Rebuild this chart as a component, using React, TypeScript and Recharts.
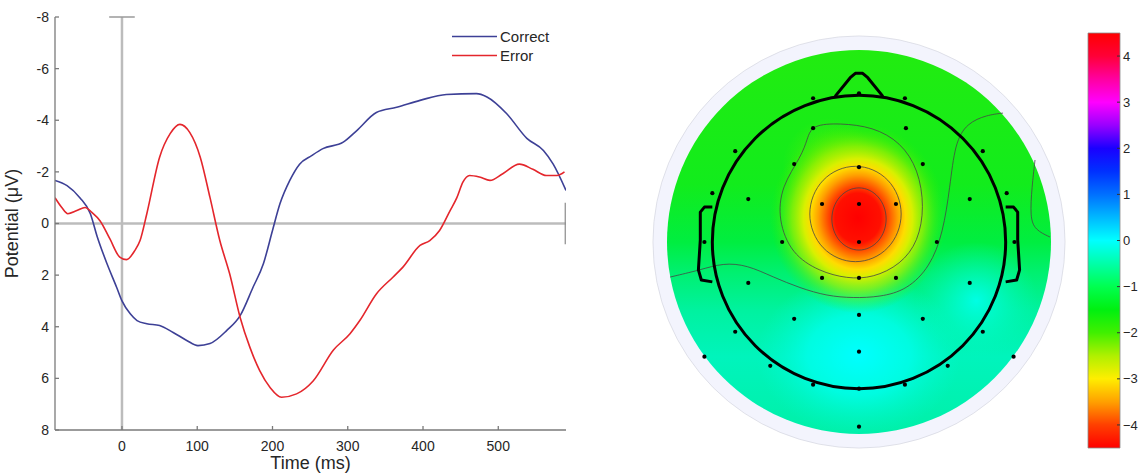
import React from "react";
import {
  LineChart,
  ComposedChart,
  Line,
  Scatter,
  XAxis,
  YAxis,
  Legend,
  ReferenceLine,
  ReferenceArea,
  Label,
} from "recharts";

const FONT = '"Liberation Sans", Arial, Helvetica, sans-serif';
const TEXT = "#262626";
const AXIS = "#7a7a7a";

// ERP waveforms: time (ms) and potential (µV), negative plotted up
const correctTimes = [
  -89, -73, -56, -42, -33, -20, -7, 0, 11, 20, 33, 50, 68, 86, 101, 117, 139, 157,
  174, 188, 200, 210, 223, 236, 252, 267, 294, 312, 338, 365, 396, 431, 471, 485,
  511, 538, 560, 573, 590,
];
const correctValues = [
  -1.67, -1.47, -1.0, -0.38, 0.5, 1.55, 2.48, 3.0, 3.5, 3.76, 3.88, 3.95, 4.22, 4.53,
  4.73, 4.65, 4.15, 3.57, 2.48, 1.55, 0.27, -0.77, -1.67, -2.3, -2.63, -2.9, -3.15,
  -3.6, -4.3, -4.5, -4.77, -5.0, -5.03, -4.9, -4.26, -3.3, -2.83, -2.3, -1.28,
];
const errorTimes = [
  -89, -80, -72, -60, -49, -40, -29, -16, -3, 6, 17, 24, 33, 50, 64, 77, 90, 104, 117,
  130, 143, 157, 170, 183, 197, 212, 232, 254, 281, 303, 316, 338, 360, 373, 396, 409,
  422, 436, 445, 453, 462, 475, 489, 506, 528, 546, 564, 578, 588,
];
const errorValues = [
  -1.0, -0.62, -0.38, -0.5, -0.62, -0.43, -0.1, 0.6, 1.3, 1.4, 1.05, 0.66, -0.38, -2.57,
  -3.48, -3.84, -3.53, -2.57, -1.0, 0.66, 1.94, 3.64, 4.8, 5.7, 6.36, 6.73, 6.6, 6.1,
  4.9, 4.27, 3.76, 2.73, 2.08, 1.7, 0.85, 0.66, 0.27, -0.5, -1.0, -1.6, -1.86, -1.8,
  -1.67, -1.93, -2.3, -2.1, -1.86, -1.86, -2.0,
];
const seriesNames = ["Correct", "Error"];
const seriesColors = ["#3d4096", "#e4262c"];
const timeTicks = [0, 100, 200, 300, 400, 500];
const potentialTicks = [-8, -6, -4, -2, 0, 2, 4, 6, 8];

// Scalp map, coordinates in head radii (head circle = 1)
const electrodeX = [
  0, -0.313, 0.313, -0.313, 0.32, -0.844, 0.844, -0.442, 0, 0.435, -1.0, 1.007, -0.755,
  -0.252, 0, 0.252, 0.755, -1.054, -0.524, 0, 0.531, 1.06, -0.755, -0.252, 0, 0.252,
  0.755, -0.844, -0.442, 0, 0.435, 0.844, -1.054, 0, 1.054, -0.605, 0.605, -0.313, 0,
  0.313, 0,
];
const electrodeY = [
  1.014, 0.98, 0.98, 0.776, 0.776, 0.619, 0.619, 0.531, 0.51, 0.531, 0.333, 0.333, 0.293,
  0.259, 0.259, 0.259, 0.293, 0, 0, 0, 0, 0, -0.279, -0.245, -0.245, -0.245, -0.279,
  -0.612, -0.524, -0.497, -0.524, -0.612, -0.782, -0.748, -0.782, -0.844, -0.844, -0.973,
  -1.0, -0.973, -1.259,
];
const contourInner = [
  [0, 0.392], [0.145, 0.323], [0.205, 0.157], [0.145, -0.009],
  [0, -0.078], [-0.145, -0.009], [-0.205, 0.157], [-0.145, 0.323],
];
const contourMiddle = [
  [-0.024, 0.551], [0.22, 0.446], [0.321, 0.191], [0.22, -0.064],
  [-0.024, -0.169], [-0.268, -0.064], [-0.369, 0.191], [-0.268, 0.446],
];
const contourOuter = [
  [-0.32, 0.8], [-0.13, 0.81], [0.095, 0.785], [0.285, 0.68], [0.405, 0.495],
  [0.446, 0.239], [0.405, 0.005], [0.285, -0.153], [0.095, -0.245], [-0.082, -0.25],
  [-0.272, -0.2], [-0.46, -0.082], [-0.552, 0.15], [-0.53, 0.38], [-0.392, 0.585],
  [-0.352, 0.705],
];
const contourLower = [
  [-1.288, -0.239], [-1.084, -0.191], [-0.927, -0.143], [-0.763, -0.157],
  [-0.586, -0.239], [-0.402, -0.314], [-0.218, -0.368], [-0.041, -0.382],
  [0.143, -0.375], [0.327, -0.327], [0.484, -0.17], [0.573, 0.061], [0.62, 0.375],
  [0.654, 0.675], [0.736, 0.811], [0.873, 0.866], [0.982, 0.879],
];
const contourRight = [
  [1.2, 0.559], [1.179, 0.375], [1.166, 0.17], [1.2, 0.082], [1.302, 0.034],
];
const noseOutline = [
  [-0.163, 0.993], [-0.06, 1.12], [-0.025, 1.15], [0.025, 1.15], [0.06, 1.12], [0.163, 0.993],
];
const leftEar = [
  [-1.0, 0.238], [-1.054, 0.238], [-1.082, 0.204], [-1.082, 0.014],
  [-1.095, -0.19], [-1.075, -0.259], [-1.0, -0.272],
];
const rightEar = leftEar.map(([x, y]) => [-x, y]);
const fieldBlobs = [
  { name: "cyanLow", x: 0, y: -0.77 },
  { name: "cyanRight", x: 0.8, y: -0.4 },
  { name: "lime", x: -0.2, y: 0.525 },
  { name: "peak", x: -0.007, y: 0.164 },
];

// colour scale
const colorbarTicks = [-4, -3, -2, -1, 0, 1, 2, 3, 4];
const colorbarRange = [-4.5, 4.5];

const K = 440 / 3; // px per head radius
const blobStyles: Record<string, { rx: number; ry: number; grad: string }> = {
  cyanLow: { rx: 0.7, ry: 0.55, grad: "gCyan" },
  cyanRight: { rx: 0.42, ry: 0.4, grad: "gCyan2" },
  lime: { rx: 0.32, ry: 0.32, grad: "gLime" },
  peak: { rx: 0.6, ry: 0.65, grad: "gPeak" },
};

const pts = (arr: number[][]) => arr.map(([x, y]) => ({ x, y }));

const FieldDisc = (props: any) => {
  const { cx, cy } = props;
  return (
    <g>
      <circle cx={cx} cy={cy} r={1.405 * K} fill="#f3f4fd" stroke="#cfd0da" strokeWidth={0.6} />
      <defs>
        <clipPath id="fieldClip">
          <circle cx={cx} cy={cy} r={1.309 * K} />
        </clipPath>
      </defs>
      <circle cx={cx} cy={cy} r={1.309 * K} fill="url(#gBase)" />
    </g>
  );
};

const FieldBlob = (props: any) => {
  const { cx, cy, payload } = props;
  const s = blobStyles[payload?.name];
  if (!s) return null;
  return (
    <ellipse
      cx={cx}
      cy={cy}
      rx={s.rx * K}
      ry={s.ry * K}
      fill={`url(#${s.grad})`}
      clipPath="url(#fieldClip)"
    />
  );
};

const HeadCircle = (props: any) => (
  <circle cx={props.cx} cy={props.cy} r={K} fill="none" stroke="#000" strokeWidth={3} />
);

const ElectrodeDot = (props: any) => <circle cx={props.cx} cy={props.cy} r={2.1} fill="#000" />;

const ErpLegend = ({ payload }: any) => (
  <div style={{ fontSize: 15, color: TEXT, fontFamily: FONT }}>
    {(payload || []).map((p: any) => (
      <div key={p.value} style={{ display: "flex", alignItems: "center", height: 19 }}>
        <svg width={50} height={19}>
          <line x1={2} x2={47} y1={9.5} y2={9.5} stroke={p.color} strokeWidth={1.6} />
        </svg>
        <span>{p.value}</span>
      </div>
    ))}
  </div>
);

function ErpChart() {
  const correct = correctTimes.map((t, i) => ({ t, v: correctValues[i] }));
  const error = errorTimes.map((t, i) => ({ t, v: errorValues[i] }));
  const tickStyle = { fill: TEXT, fontSize: 14, fontFamily: FONT };
  return (
    <LineChart width={600} height={473} margin={{ top: 17, right: 34, bottom: 13, left: 15 }}>
      <XAxis
        type="number"
        dataKey="t"
        domain={[-89, 590]}
        allowDataOverflow
        ticks={timeTicks}
        height={30}
        stroke={AXIS}
        strokeWidth={1.3}
        tickSize={-4}
        tickMargin={15}
        tick={tickStyle}
      >
        <Label
          content={({ viewBox }: any) => (
            <text
              x={viewBox.x + viewBox.width / 2}
              y={viewBox.y + 39}
              textAnchor="middle"
              fill={TEXT}
              fontSize={18}
              fontFamily={FONT}
            >
              Time (ms)
            </text>
          )}
        />
      </XAxis>
      <YAxis
        type="number"
        reversed
        domain={[-8, 8]}
        ticks={potentialTicks}
        width={40}
        stroke={AXIS}
        strokeWidth={1.3}
        tickSize={-4}
        tickMargin={10}
        tick={tickStyle}
      >
        <Label
          content={({ viewBox }: any) => {
            const x = viewBox.x + 3;
            const y = viewBox.y + viewBox.height / 2;
            return (
              <text
                x={x}
                y={y}
                transform={`rotate(-90 ${x} ${y})`}
                textAnchor="middle"
                fill={TEXT}
                fontSize={18}
                fontFamily={FONT}
              >
                Potential (μV)
              </text>
            );
          }}
        />
      </YAxis>
      <ReferenceLine x={0} stroke="#bcbcbc" strokeWidth={2.5} />
      <ReferenceLine y={0} stroke="#bcbcbc" strokeWidth={2.5} />
      <ReferenceLine segment={[{ x: -17, y: -8 }, { x: 17, y: -8 }]} stroke="#9a9a9a" strokeWidth={1.5} />
      <ReferenceLine segment={[{ x: 589, y: -0.8 }, { x: 589, y: 0.8 }]} stroke="#8a8a8a" strokeWidth={1.2} />
      <Legend
        layout="vertical"
        verticalAlign="middle"
        align="center"
        wrapperStyle={{ left: 450, top: 27, width: 130 }}
        content={<ErpLegend />}
      />
      <Line
        data={correct}
        dataKey="v"
        name={seriesNames[0]}
        type="monotone"
        stroke={seriesColors[0]}
        strokeWidth={1.6}
        dot={false}
        isAnimationActive={false}
      />
      <Line
        data={error}
        dataKey="v"
        name={seriesNames[1]}
        type="monotone"
        stroke={seriesColors[1]}
        strokeWidth={1.6}
        dot={false}
        isAnimationActive={false}
      />
    </LineChart>
  );
}

function TopoMap() {
  const electrodes = electrodeX.map((x, i) => ({ x, y: electrodeY[i] }));
  const closed = [contourInner, contourMiddle, contourOuter];
  const open = [contourLower, contourRight];
  const outline = [noseOutline, leftEar, rightEar];
  return (
    <ComposedChart width={440} height={440} margin={{ top: 0, right: 0, bottom: 0, left: 0 }}>
      <defs>
        <linearGradient id="gBase" x1="0" y1="0" x2="0" y2="1">
          <stop offset="0" stopColor="#22ec10" />
          <stop offset="0.35" stopColor="#12ec1c" />
          <stop offset="0.5" stopColor="#00ee40" />
          <stop offset="0.58" stopColor="#00f070" />
          <stop offset="0.68" stopColor="#00f2a0" />
          <stop offset="0.8" stopColor="#00f4bc" />
          <stop offset="1" stopColor="#00f0a8" />
        </linearGradient>
        <radialGradient id="gCyan">
          <stop offset="0" stopColor="#00ffff" stopOpacity={1} />
          <stop offset="0.5" stopColor="#00fff0" stopOpacity={0.75} />
          <stop offset="1" stopColor="#00f8d0" stopOpacity={0} />
        </radialGradient>
        <radialGradient id="gCyan2">
          <stop offset="0" stopColor="#00ffe8" stopOpacity={0.95} />
          <stop offset="1" stopColor="#00f8c0" stopOpacity={0} />
        </radialGradient>
        <radialGradient id="gLime">
          <stop offset="0" stopColor="#90f000" stopOpacity={0.7} />
          <stop offset="1" stopColor="#60f000" stopOpacity={0} />
        </radialGradient>
        <radialGradient id="gPeak">
          <stop offset="0" stopColor="#ff0000" />
          <stop offset="0.26" stopColor="#ff1000" />
          <stop offset="0.34" stopColor="#ff4a00" />
          <stop offset="0.45" stopColor="#ffa000" />
          <stop offset="0.54" stopColor="#ffdc00" />
          <stop offset="0.62" stopColor="#d8f000" />
          <stop offset="0.75" stopColor="#a0f000" stopOpacity={0.75} />
          <stop offset="0.88" stopColor="#60f000" stopOpacity={0.35} />
          <stop offset="1" stopColor="#30f000" stopOpacity={0} />
        </radialGradient>
      </defs>
      <XAxis type="number" dataKey="x" domain={[-1.5, 1.5]} allowDataOverflow hide />
      <YAxis type="number" dataKey="y" domain={[-1.5, 1.5]} allowDataOverflow hide />
      <Scatter data={[{ x: 0, y: 0 }]} shape={FieldDisc} isAnimationActive={false} zIndex={100} />
      <Scatter data={fieldBlobs} shape={FieldBlob} isAnimationActive={false} zIndex={110} />
      {closed.map((c, i) => (
        <Line
          key={`c${i}`}
          data={pts(c)}
          dataKey="y"
          type="basisClosed"
          stroke="#454545"
          strokeWidth={0.8}
          dot={false}
          isAnimationActive={false}
          zIndex={400}
        />
      ))}
      {open.map((c, i) => (
        <Line
          key={`o${i}`}
          data={pts(c)}
          dataKey="y"
          type="basis"
          stroke="#454545"
          strokeWidth={0.8}
          dot={false}
          isAnimationActive={false}
          zIndex={400}
        />
      ))}
      <Scatter data={[{ x: 0, y: 0 }]} shape={HeadCircle} isAnimationActive={false} zIndex={450} />
      {outline.map((c, i) => (
        <Line
          key={`h${i}`}
          data={pts(c)}
          dataKey="y"
          type="linear"
          stroke="#000"
          strokeWidth={3}
          strokeLinejoin="round"
          dot={false}
          isAnimationActive={false}
          zIndex={450}
        />
      ))}
      <Scatter data={electrodes} shape={ElectrodeDot} isAnimationActive={false} zIndex={600} />
    </ComposedChart>
  );
}

function Colorbar() {
  const fmt = (v: number) => (v < 0 ? `\u2212${-v}` : `${v}`);
  const barData = colorbarTicks.map((v) => ({ x: 0.5, v }));
  return (
    <ComposedChart
      width={62}
      height={473}
      data={barData}
      margin={{ top: 33, right: 0, bottom: 25, left: 8 }}
    >
      <defs>
        <linearGradient id="gBar" x1="0" y1="0" x2="0" y2="1">
          <stop offset="0" stopColor="#ff0000" />
          <stop offset="0.056" stopColor="#ff0038" />
          <stop offset="0.111" stopColor="#ff00a0" />
          <stop offset="0.167" stopColor="#ff00ff" />
          <stop offset="0.222" stopColor="#9a00ff" />
          <stop offset="0.278" stopColor="#1a00ff" />
          <stop offset="0.333" stopColor="#0030ff" />
          <stop offset="0.389" stopColor="#0070ff" />
          <stop offset="0.444" stopColor="#00b8ff" />
          <stop offset="0.5" stopColor="#00ffff" />
          <stop offset="0.556" stopColor="#00ffa8" />
          <stop offset="0.611" stopColor="#00ff50" />
          <stop offset="0.667" stopColor="#00f010" />
          <stop offset="0.722" stopColor="#40f000" />
          <stop offset="0.778" stopColor="#b0f000" />
          <stop offset="0.833" stopColor="#ffee00" />
          <stop offset="0.889" stopColor="#ffa000" />
          <stop offset="0.944" stopColor="#ff4000" />
          <stop offset="1" stopColor="#ff0000" />
        </linearGradient>
      </defs>
      <XAxis type="number" dataKey="x" domain={[0, 1]} allowDataOverflow hide />
      <YAxis
        yAxisId="r"
        orientation="right"
        type="number"
        dataKey="v"
        domain={colorbarRange}
        allowDataOverflow
        ticks={colorbarTicks}
        width={22}
        axisLine={false}
        tickLine={{ stroke: "#333" }}
        tickSize={-3}
        tickMargin={6}
        tickFormatter={fmt}
        tick={{ fill: TEXT, fontSize: 13, fontFamily: FONT }}
        interval={0}
      />
      <ReferenceArea
        yAxisId="r"
        x1={0}
        x2={1}
        y1={colorbarRange[0]}
        y2={colorbarRange[1]}
        fill="url(#gBar)"
        fillOpacity={1}
        stroke="#8a8a8a"
        strokeWidth={0.8}
        ifOverflow="visible"
      />
      <Line
        yAxisId="r"
        dataKey="v"
        stroke="none"
        dot={false}
        activeDot={false}
        isAnimationActive={false}
        legendType="none"
      />
    </ComposedChart>
  );
}

export default function App() {
  return (
    <div
      style={{
        position: "absolute",
        left: 0,
        top: 0,
        width: 1142,
        height: 473,
        background: "#fff",
        fontFamily: FONT,
        overflow: "hidden",
      }}
    >
      <div style={{ position: "absolute", left: 0, top: 0 }}>
        <ErpChart />
      </div>
      <div style={{ position: "absolute", left: 639, top: 22 }}>
        <TopoMap />
      </div>
      <div style={{ position: "absolute", left: 1080, top: 0 }}>
        <Colorbar />
      </div>
    </div>
  );
}
